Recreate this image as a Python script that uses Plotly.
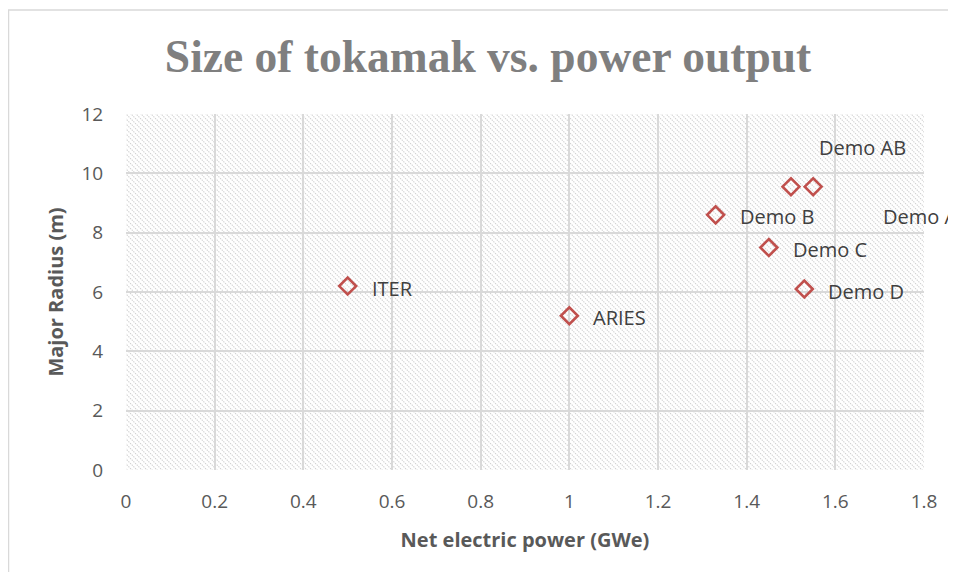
import plotly.graph_objects as go
import urllib.parse

# ---- data ----
names = ["ITER", "ARIES", "Demo B", "Demo C", "Demo D", "Demo AB", "Demo A"]
power_gwe = [0.5, 1.0, 1.33, 1.45, 1.53, 1.5, 1.55]
major_radius_m = [6.2, 5.2, 8.6, 7.5, 6.1, 9.55, 9.55]
# label offsets in pixels (label placement as in the original chart)
label_dx = [22, 22, 22, 22, 22, 26, 68]
label_dy = [-2, -2, -2, -2, -2, 39, -30]

x_ticks = [0, 0.2, 0.4, 0.6, 0.8, 1, 1.2, 1.4, 1.6, 1.8]
y_ticks = [0, 2, 4, 6, 8, 10, 12]

title_text = "Size of tokamak vs. power output"
x_title = "Net electric power (GWe)"
y_title = "Major Radius (m)"

# page has an 8px body margin; figure is sized to end at the window edge
W, H = 948, 564
ML, MR, MT, MB = 118, 32, 106, 102
PW, PH = W - ML - MR, H - MT - MB

RED = "#c0504d"
GRID = "#d9d9d9"
TXT = "#595959"

fig = go.Figure()
fig.add_trace(go.Scatter(
    x=power_gwe, y=major_radius_m, mode="markers",
    marker=dict(symbol="diamond-open", size=13, color=RED, line=dict(width=2.6, color=RED)),
    hoverinfo="text", text=names, showlegend=False,
))

annotations = []
for n, x, y, dx, dy in zip(names, power_gwe, major_radius_m, label_dx, label_dy):
    annotations.append(dict(
        x=x, y=y, xref="x", yref="y", text=n, showarrow=False,
        xanchor="left", yanchor="middle", xshift=dx, yshift=dy,
        font=dict(family="Open Sans", size=20, color="#404040"),
    ))

# hatched plot-area background
svg = (
    f"<svg xmlns='http://www.w3.org/2000/svg' width='{PW}' height='{PH}'>"
    "<defs><pattern id='p' width='5' height='5' patternUnits='userSpaceOnUse'>"
    "<path d='M-1,-1 L6,6 M-1,4 L1,6 M4,-1 L6,1' stroke='#d0d0d0' stroke-width='1.1' stroke-dasharray='1.4,1'/>"
    "</pattern></defs><rect width='100%' height='100%' fill='white'/>"
    "<rect width='100%' height='100%' fill='url(#p)'/></svg>"
)
src = "data:image/svg+xml;charset=utf-8," + urllib.parse.quote(svg)

fig.update_layout(
    width=W, height=H,
    margin=dict(l=ML, r=MR, t=MT, b=MB, autoexpand=False),
    paper_bgcolor="white", plot_bgcolor="rgba(0,0,0,0)",
    title=dict(
        text=title_text, x=480 / W, xanchor="center", xref="container",
        y=1 - 48 / H, yanchor="middle", yref="container",
        font=dict(family="Liberation Serif", size=45.5, color="#7f7f7f", weight="bold"),
    ),
    xaxis=dict(
        range=[0, 1.8], tickvals=x_ticks, ticktext=[f"{v:g}" for v in x_ticks],
        showgrid=True, gridcolor=GRID, gridwidth=2, zeroline=False, showline=False,
        ticks="outside", ticklen=14, tickcolor="rgba(0,0,0,0)",
        tickfont=dict(family="Open Sans", size=19, color=TXT),
        title=dict(text=x_title, standoff=20,
                   font=dict(family="Open Sans", size=20, color=TXT, weight="bold")),
    ),
    yaxis=dict(
        range=[0, 12], tickvals=y_ticks,
        showgrid=True, gridcolor=GRID, gridwidth=2, zeroline=False, showline=False,
        ticks="outside", ticklen=18, tickcolor="rgba(0,0,0,0)",
        tickfont=dict(family="Open Sans", size=19, color=TXT),
        title=dict(text=y_title, standoff=12,
                   font=dict(family="Open Sans", size=20, color=TXT, weight="bold")),
    ),
    annotations=annotations,
    images=[dict(source=src, xref="paper", yref="paper", x=0, y=1, sizex=1, sizey=1,
                 xanchor="left", yanchor="top", sizing="stretch", layer="below")],
    shapes=[dict(type="rect", xref="paper", yref="paper",
                 x0=0.5 / PW - ML / PW, x1=(W + 40 - ML) / PW,
                 y0=-0.6, y1=(H - MB - 2) / PH,
                 line=dict(color=GRID, width=1.5), fillcolor="rgba(0,0,0,0)", layer="below")],
)

fig.write_html("out.html")
